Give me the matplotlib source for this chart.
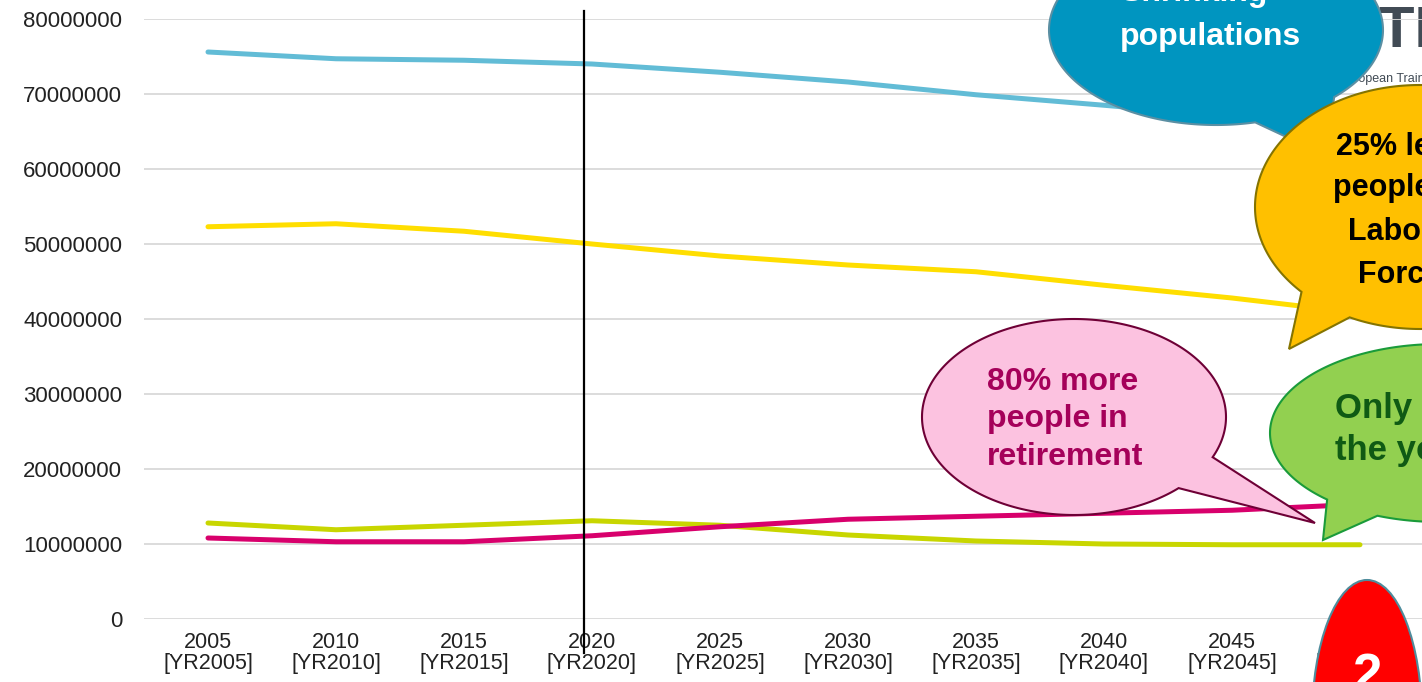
import numpy as np
import matplotlib
matplotlib.use("Agg")
import matplotlib.pyplot as plt
from matplotlib.patches import Polygon, Ellipse

plt.rcParams['font.family'] = ['Liberation Sans', 'DejaVu Sans']

# ---------------- data ----------------
years = ["2005", "2010", "2015", "2020", "2025", "2030", "2035", "2040", "2045", "2050"]
tick_labels = [f"{y}\n[YR{y}]" for y in years]
total_pop = [75.6e6, 74.7e6, 74.5e6, 74.0e6, 72.9e6, 71.6e6, 69.9e6, 68.5e6, 67.0e6, 65.5e6]
labour_force = [52.3e6, 52.7e6, 51.7e6, 50.0e6, 48.4e6, 47.2e6, 46.3e6, 44.5e6, 42.8e6, 40.8e6]
retired = [10.8e6, 10.3e6, 10.3e6, 11.1e6, 12.3e6, 13.3e6, 13.7e6, 14.1e6, 14.5e6, 15.3e6]
young = [12.8e6, 11.9e6, 12.5e6, 13.1e6, 12.5e6, 11.2e6, 10.4e6, 10.0e6, 9.9e6, 9.9e6]
y_ticks = [0, 10e6, 20e6, 30e6, 40e6, 50e6, 60e6, 70e6, 80e6]

W, H = 1422, 682
fig = plt.figure(figsize=(W / 100, H / 100), dpi=100)

# logo behind chart
fig.text(1340 / W, 1 - 47 / H, "ETF", fontsize=42, fontweight='bold', color='#414B55',
         ha='left', va='baseline', zorder=0.2)
fig.text(1339 / W, 1 - 82 / H, "European Training Foundation", fontsize=9, color='#414B55',
         ha='left', va='baseline', zorder=0.2)

ax = fig.add_axes([144 / W, (H - 619) / H, 1280 / W, 600 / H])
ax.set_zorder(1)
ax.patch.set_alpha(0)
x = np.arange(len(years))
ax.plot(x, total_pop, color='#62BCD6', lw=3.6, solid_capstyle='round', zorder=3)
ax.plot(x, labour_force, color='#FFDE00', lw=3.6, solid_capstyle='round', zorder=3)
ax.plot(x, young, color='#C8D600', lw=3.6, solid_capstyle='round', zorder=3)
ax.plot(x, retired, color='#D8006C', lw=3.6, solid_capstyle='round', zorder=3)
ax.set_xlim(-0.5, len(years) - 0.5)
ax.set_ylim(0, 80e6)
ax.set_yticks(y_ticks)
ax.set_yticklabels([f"{v:.0f}" for v in y_ticks], fontsize=16, color='#222222')
ax.set_xticks(x)
ax.set_xticklabels(tick_labels, fontsize=15.5, color='#222222', linespacing=1.05)
ax.tick_params(axis='both', length=0)
ax.tick_params(axis='y', pad=15.8)
ax.tick_params(axis='x', pad=9)
ax.grid(axis='y', color='#D9D9D9', lw=1.3)
ax.set_axisbelow(True)
for s in ax.spines.values():
    s.set_visible(False)

# overlay in pixel coordinates
ov = fig.add_axes([0, 0, 1, 1])
ov.set_zorder(2)
ov.patch.set_alpha(0)
ov.set_xlim(0, W)
ov.set_ylim(H, 0)
ov.axis('off')

ov.plot([584, 584], [11, 653], color='black', lw=1.6, zorder=1)


def bubble(cx, cy, rx, ry, b1, b2, tip, fc, ec, lw, z):
    a1 = np.arctan2((b1[1] - cy) / ry, (b1[0] - cx) / rx)
    a2 = np.arctan2((b2[1] - cy) / ry, (b2[0] - cx) / rx)
    lo, hi = min(a1, a2), max(a1, a2)
    ts = np.linspace(hi, lo + 2 * np.pi, 300)
    pts = np.column_stack([cx + rx * np.cos(ts), cy + ry * np.sin(ts)])
    pts = np.vstack([pts, tip])
    ov.add_patch(Polygon(pts, closed=True, fc=fc, ec=ec, lw=lw, joinstyle='miter', zorder=z))


# blue
bubble(1216, 30, 167, 95, (1255, 122), (1334, 97), (1325, 155), '#0095C0', '#5B8FA3', 1.5, 3)
ov.text(1120, 1, "Shrinking", fontsize=23, fontweight='bold', color='white', ha='left', va='baseline', zorder=3.1)
ov.text(1120, 45, "populations", fontsize=23, fontweight='bold', color='white', ha='left', va='baseline', zorder=3.1)

# orange
bubble(1420, 207, 165, 122, (1300, 293), (1348, 320), (1289, 349), '#FFC000', '#857400', 1.5, 4)
for t, yb in zip(["25% less", "people in", "Labour", "Force"], [155, 196, 240, 283]):
    ov.text(1400, yb, t, fontsize=22, fontweight='bold', color='black', ha='center', va='baseline', zorder=4.1)

# green
bubble(1440, 433, 170, 89, (1323, 502), (1375, 519), (1323, 540), '#92D050', '#1A9B3A', 1.5, 4)
for t, yb in zip(["Only 13%", "the young"], [418, 460]):
    ov.text(1335, yb, t, fontsize=25, fontweight='bold', color='#0F5A14', ha='left', va='baseline', zorder=4.1)

# pink
bubble(1074, 417, 152, 98, (1212, 457), (1177, 487), (1315, 523), '#FCC2E0', '#6E0036', 1.5, 5)
for t, yb in zip(["80% more", "people in", "retirement"], [390, 427, 465]):
    ov.text(987, yb, t, fontsize=23, fontweight='bold', color='#A5005A', ha='left', va='baseline', zorder=5.1)

# red
ov.add_patch(Ellipse((1367, 720), 110, 280, fc='#FF0000', ec='#4E8C9C', lw=1.5, zorder=6))
ov.text(1367, 691, "2", fontsize=38, fontweight='bold', color='white', ha='center', va='baseline', zorder=6.1)

fig.savefig("out.png", dpi=100)
